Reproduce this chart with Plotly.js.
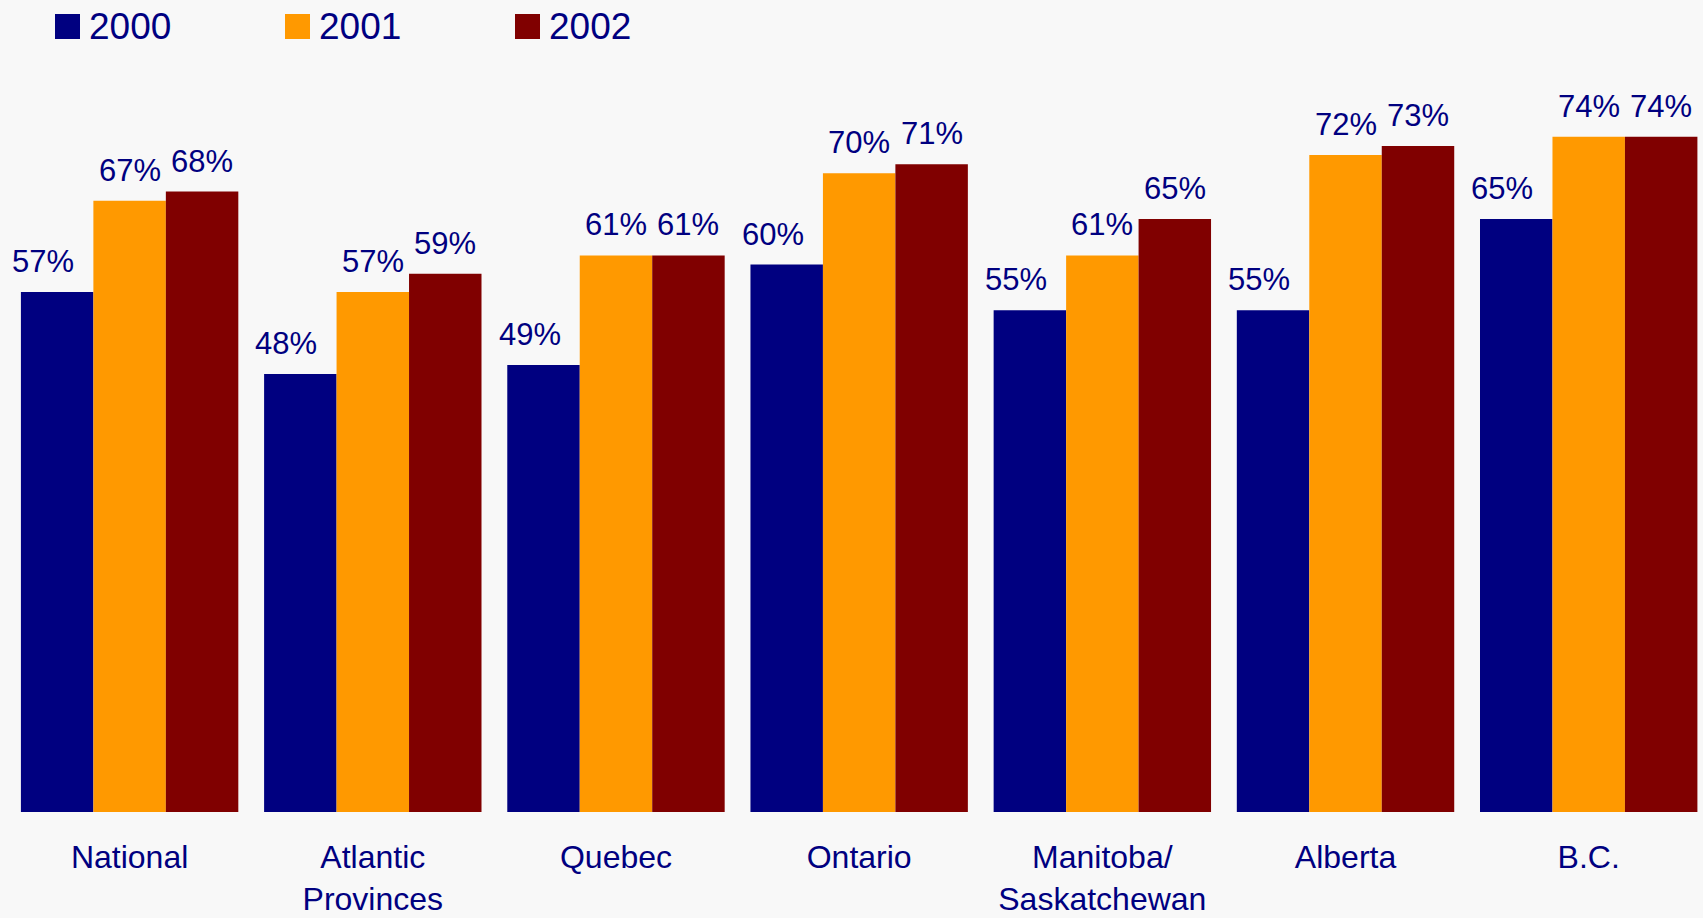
<!DOCTYPE html>
<html>
<head>
<meta charset="utf-8">
<script src="https://cdn.plot.ly/plotly-3.0.1.min.js"></script>
<style>
html,body{margin:0;padding:0;background:#f8f8f8;}
#chart{width:1703px;height:918px;}
</style>
</head>
<body>
<div id="chart"></div>
<script>
// ---- data ----
const categories = ["National", "Atlantic<br>Provinces", "Quebec", "Ontario", "Manitoba/<br>Saskatchewan", "Alberta", "B.C."];
const seriesNames = ["2000", "2001", "2002"];
const values2000 = [57, 48, 49, 60, 55, 55, 65];
const values2001 = [67, 57, 61, 70, 61, 72, 74];
const values2002 = [68, 59, 61, 71, 65, 73, 74];
const seriesColors = ["#000080", "#FF9900", "#800000"];

// ---- layout constants ----
const W = 1703, H = 918;
const marginT = 82, marginB = 106;
const plotH = H - marginT - marginB;
const bargap = 0.106;
const textColor = "#000080";
const fontFam = "Liberation Sans, Arial, sans-serif";

const allValues = [values2000, values2001, values2002];
const idx = categories.map((_, i) => i);

const traces = allValues.map((vals, k) => ({
  type: "bar",
  name: seriesNames[k],
  x: idx,
  y: vals,
  marker: {color: seriesColors[k], line: {width: 0}},
  showlegend: false,
  hoverinfo: "skip"
}));

// data labels through axis coordinates
const barW = (1 - bargap) / seriesNames.length;
const annotations = [];
allValues.forEach((vals, k) => {
  vals.forEach((v, i) => {
    annotations.push({
      x: i + (k - (seriesNames.length - 1) / 2) * barW,
      y: v,
      xref: "x", yref: "y",
      text: v + "%",
      showarrow: false,
      xanchor: "center", yanchor: "bottom",
      yshift: 11,
      xshift: k === 0 ? -14 : 0,
      font: {family: fontFam, size: 31, color: textColor}
    });
  });
});

// custom legend (large squares)
const px = p => p / W;
const py = p => (H - marginB - p) / plotH;
const shapes = [];
seriesNames.forEach((n, k) => {
  const x0 = 55 + k * 230;
  shapes.push({
    type: "rect", xref: "paper", yref: "paper",
    x0: px(x0), x1: px(x0 + 25), y0: py(39), y1: py(14),
    fillcolor: seriesColors[k], line: {width: 0}
  });
  annotations.push({
    xref: "paper", yref: "paper",
    x: px(x0 + 32), y: py(26),
    xanchor: "left", yanchor: "middle",
    text: n, showarrow: false,
    font: {family: fontFam, size: 37, color: textColor}
  });
});

const layout = {
  width: W, height: H,
  paper_bgcolor: "#f8f8f8",
  plot_bgcolor: "#f8f8f8",
  margin: {l: 0, r: 0, t: marginT, b: marginB, pad: 0},
  barmode: "group",
  bargap: bargap,
  bargroupgap: 0,
  showlegend: false,
  xaxis: {
    type: "linear",
    range: [-0.533, 6.47],
    tickmode: "array",
    tickvals: idx,
    ticktext: categories,
    ticks: "outside",
    ticklen: 17,
    tickcolor: "rgba(0,0,0,0)",
    showgrid: false,
    zeroline: false,
    showline: false,
    tickfont: {family: fontFam, size: 32, color: textColor},
    fixedrange: true
  },
  yaxis: {
    range: [0, 80],
    visible: false,
    fixedrange: true
  },
  shapes: shapes,
  annotations: annotations
};

Plotly.newPlot("chart", traces, layout, {displayModeBar: false, staticPlot: true});
</script>
</body>
</html>
